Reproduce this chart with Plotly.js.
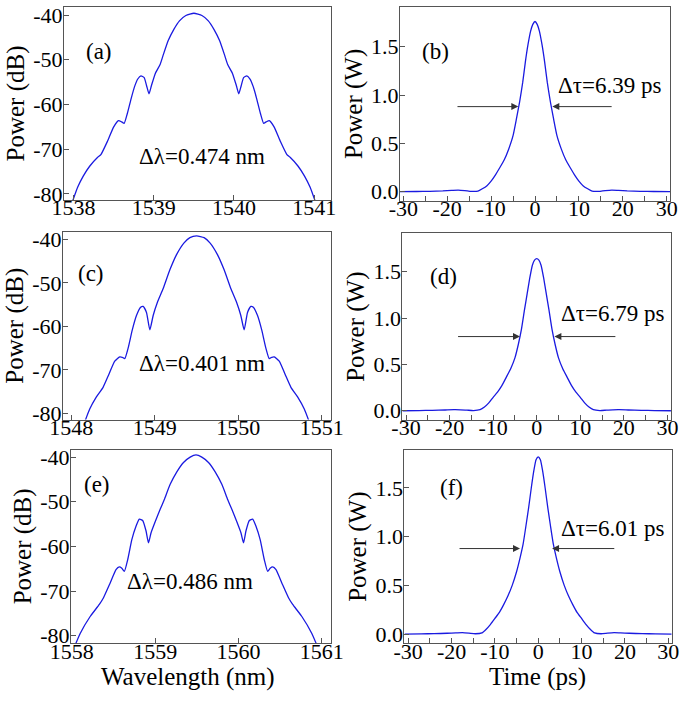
<!DOCTYPE html>
<html><head><meta charset="utf-8">
<script src="https://cdn.plot.ly/plotly-3.0.1.min.js"></script>
<style>html,body{margin:0;padding:0;background:#fff}</style>
</head><body><div id="chart" style="width:685px;height:701px"></div>
<script>
// ---- data ----
const wavelengthA = [1537.97,1538.05,1538.12,1538.20,1538.30,1538.34,1538.42,1538.50,1538.56,1538.60,1538.63,1538.67,1538.72,1538.76,1538.80,1538.84,1538.88,1538.91,1538.94,1538.97,1539.02,1539.08,1539.12,1539.18,1539.25,1539.32,1539.40,1539.50,1539.60,1539.68,1539.75,1539.82,1539.88,1539.92,1539.98,1540.03,1540.06,1540.09,1540.12,1540.16,1540.20,1540.24,1540.28,1540.33,1540.37,1540.40,1540.44,1540.50,1540.58,1540.66,1540.70,1540.80,1540.88,1540.95,1541.03];
const powerDbA = [-82.5,-78.5,-76.0,-73.8,-71.8,-71.2,-68.3,-65.0,-63.6,-63.9,-64.2,-62.0,-58.5,-56.0,-54.3,-53.6,-54.0,-55.8,-57.6,-55.8,-53.0,-51.0,-48.8,-45.7,-43.2,-41.3,-40.1,-39.6,-40.1,-41.3,-43.2,-45.7,-48.8,-51.0,-53.0,-55.8,-57.6,-55.8,-54.0,-53.6,-54.3,-56.0,-58.5,-62.0,-64.2,-63.9,-63.6,-65.0,-68.3,-71.2,-71.8,-73.8,-76.0,-78.5,-82.5];

const wavelengthC = [1548.15,1548.22,1548.30,1548.38,1548.45,1548.52,1548.58,1548.61,1548.64,1548.68,1548.73,1548.78,1548.83,1548.86,1548.90,1548.94,1548.98,1549.03,1549.10,1549.18,1549.26,1549.35,1549.42,1549.50,1549.59,1549.66,1549.75,1549.83,1549.91,1549.98,1550.03,1550.07,1550.11,1550.15,1550.18,1550.23,1550.28,1550.33,1550.37,1550.40,1550.43,1550.49,1550.56,1550.63,1550.71,1550.79,1550.86];
const powerDbC = [-82.5,-79.0,-76.2,-74.0,-71.0,-68.0,-67.0,-67.1,-67.4,-65.0,-60.8,-57.5,-55.6,-55.4,-56.8,-60.8,-57.5,-54.5,-51.3,-47.0,-43.5,-40.8,-39.6,-39.2,-39.6,-40.8,-43.5,-47.0,-51.3,-54.5,-57.5,-60.8,-56.8,-55.4,-55.6,-57.5,-60.8,-65.0,-67.4,-67.1,-67.0,-68.0,-71.0,-74.0,-76.2,-79.0,-82.5];

const wavelengthE = [1558.02,1558.10,1558.22,1558.33,1558.38,1558.46,1558.53,1558.57,1558.60,1558.63,1558.67,1558.72,1558.77,1558.81,1558.85,1558.89,1558.92,1558.95,1559.00,1559.06,1559.11,1559.18,1559.26,1559.34,1559.42,1559.49,1559.56,1559.64,1559.72,1559.80,1559.87,1559.92,1559.98,1560.03,1560.06,1560.09,1560.13,1560.17,1560.21,1560.26,1560.31,1560.35,1560.38,1560.41,1560.45,1560.52,1560.60,1560.65,1560.76,1560.88,1560.96];
const powerDbE = [-83.0,-79.5,-75.7,-73.0,-71.5,-68.2,-65.2,-64.6,-64.9,-65.6,-63.0,-58.5,-55.5,-53.9,-54.2,-56.5,-59.2,-57.0,-54.5,-51.7,-49.5,-46.1,-43.3,-41.2,-40.0,-39.5,-40.0,-41.2,-43.3,-46.1,-49.5,-51.7,-54.5,-57.0,-59.2,-56.5,-54.2,-53.9,-55.5,-58.5,-63.0,-65.6,-64.9,-64.6,-65.2,-68.2,-71.5,-73.0,-75.7,-79.5,-83.0];

const timePs = [-30.8,-27,-24,-21,-19,-17.5,-16,-14.5,-13,-12,-11,-10,-9,-8,-7,-6,-5,-4.2,-3.5,-2.8,-2.2,-1.6,-1.0,-0.5,0,0.5,1.0,1.6,2.2,2.8,3.5,4.2,5,6,7,8,9,10,11,12,13,14.5,16,17.5,19,21,24,27,30.8];
const powerWB = [0.0,0.002,0.004,0.008,0.013,0.017,0.012,0.003,0.006,0.03,0.06,0.11,0.175,0.25,0.33,0.44,0.58,0.76,0.93,1.13,1.34,1.52,1.66,1.73,1.76,1.73,1.66,1.52,1.34,1.13,0.93,0.76,0.58,0.44,0.33,0.25,0.175,0.11,0.06,0.03,0.006,0.003,0.012,0.017,0.013,0.008,0.004,0.002,0.0];
const powerWD = [0.0,0.002,0.004,0.008,0.011,0.010,0.006,0.002,0.012,0.04,0.085,0.145,0.2,0.27,0.36,0.45,0.57,0.72,0.88,1.09,1.26,1.43,1.57,1.625,1.64,1.625,1.57,1.43,1.26,1.09,0.88,0.72,0.57,0.45,0.36,0.27,0.2,0.145,0.085,0.04,0.012,0.002,0.006,0.010,0.011,0.008,0.004,0.002,0.0];
const powerWF = [0.0,0.002,0.004,0.008,0.012,0.015,0.010,0.003,0.012,0.05,0.1,0.16,0.22,0.3,0.39,0.5,0.64,0.78,0.92,1.12,1.3,1.5,1.68,1.79,1.82,1.79,1.68,1.5,1.3,1.12,0.92,0.78,0.64,0.5,0.39,0.3,0.22,0.16,0.1,0.05,0.012,0.003,0.010,0.015,0.012,0.008,0.004,0.002,0.0];

const panelLabels = ['(a)','(b)','(c)','(d)','(e)','(f)'];
const bandwidthLabels = ['Δλ=0.474 nm','Δλ=0.401 nm','Δλ=0.486 nm'];
const durationLabels = ['Δτ=6.39 ps','Δτ=6.79 ps','Δτ=6.01 ps'];
const axisTitles = ['Power (dB)','Power (W)','Wavelength (nm)','Time (ps)'];
const dbTicks = [-80,-70,-60,-50,-40];
const wTicks = [0,0.5,1.0,1.5];
const timeTicks = [-30,-20,-10,0,10,20,30];

// ---- styling ----
const serif = '"Liberation Serif", "Times New Roman", Times, serif';
const frame = '#555';
const blue = '#1a1ae0';
function axisBase(extra) {
  return Object.assign({
    showline:true, mirror:true, linecolor:frame, linewidth:1,
    ticks:'inside', ticklen:5, tickwidth:1, tickcolor:frame,
    showgrid:false, zeroline:false, fixedrange:true, automargin:false,
    tickfont:{family:serif, size:22, color:'#000'}
  }, extra);
}
function yTitle(t){ return {text:t, font:{family:serif,size:25,color:'#000'}, standoff:1}; }

const W = 685, H = 701;
const px = (a,b) => [a/W, b/W];
const py = (top,bottom) => [1-bottom/H, 1-top/H];

function line(x,y,xa,ya){ return {x:x,y:y,xaxis:xa,yaxis:ya,type:'scatter',mode:'lines',line:{color:blue,width:1.3,shape:'spline',smoothing:0.5},hoverinfo:'skip',showlegend:false}; }

const data = [
  line(wavelengthA,powerDbA,'x','y'),
  line(timePs,powerWB,'x2','y2'),
  line(wavelengthC,powerDbC,'x3','y3'),
  line(timePs,powerWD,'x4','y4'),
  line(wavelengthE,powerDbE,'x5','y5'),
  line(timePs,powerWF,'x6','y6')
];

const wlAxis = (d,r,a) => axisBase({domain:d, range:r, anchor:a, tickmode:'linear', dtick:1, ticklabelstandoff:-12});
const tAxis = (d,r,a) => axisBase({domain:d, range:r, anchor:a, tickmode:'array', tickvals:timeTicks, ticktext:timeTicks.map(String), ticklabelstandoff:-12,
  minor:{dtick:5, tick0:0, ticks:'inside', ticklen:5, tickcolor:frame, showgrid:false}});
const dbAxis = (d,r,a) => axisBase({domain:d, range:r, anchor:a, tickmode:'array', tickvals:dbTicks, ticktext:dbTicks.map(String), ticklabelstandoff:-4, title:yTitle(axisTitles[0])});
const wAxis = (d,r,a) => axisBase({domain:d, range:r, anchor:a, tickmode:'array', tickvals:wTicks, ticktext:wTicks.map(v=>v.toFixed(1)), ticklabelstandoff:-4, title:yTitle(axisTitles[1])});

const layout = {
  width:W, height:H, margin:{l:0,r:0,t:0,b:0}, paper_bgcolor:'#fff', plot_bgcolor:'#fff',
  font:{family:serif, color:'#000'},
  xaxis:  wlAxis(px(64,331),    [1537.88,1541.21], 'y'),
  yaxis:  dbAxis(py(7,200),     [-81.35,-38.2], 'x'),
  xaxis2: tAxis(px(400,670),    [-30.75,30.75], 'y2'),
  yaxis2: wAxis(py(7.3,200.5),  [-0.091,1.907], 'x2'),
  xaxis3: wlAxis(px(63,331),    [1547.90,1551.11], 'y3'),
  yaxis3: dbAxis(py(232,419.5), [-81.4,-38.3], 'x3'),
  xaxis4: tAxis(px(402.3,671),  [-30.85,30.82], 'y4'),
  yaxis4: wAxis(py(233.3,420),  [-0.1,1.914], 'x4'),
  xaxis5: wlAxis(px(71,331),    [1557.99,1561.11], 'y5'),
  yaxis5: dbAxis(py(449.5,643.3),[-81.7,-38.3], 'x5'),
  xaxis6: tAxis(px(404.3,671.7),[-30.9,30.8], 'y6'),
  yaxis6: wAxis(py(450,643.3),  [-0.095,1.89], 'x6'),
  annotations: []
};

const txt = (xr,yr,x,y,t) => ({xref:xr,yref:yr,x:x,y:y,text:t,showarrow:false,font:{family:serif,size:23,color:'#000'},xanchor:'center',yanchor:'middle'});
const arrow = (xr,yr,x,y,ax) => ({xref:xr,yref:yr,axref:xr,ayref:yr,x:x,y:y,ax:ax,ay:y,text:'',showarrow:true,arrowhead:2,arrowsize:1.4,arrowwidth:1,arrowcolor:'#333'});
const xTitleNote = (x,t) => ({xref:'paper',yref:'paper',x:x/W,y:1-677/H,text:t,showarrow:false,font:{family:serif,size:25,color:'#000'},xanchor:'center',yanchor:'middle'});

layout.annotations.push(
  txt('x','y',1538.32,-48.1,panelLabels[0]),
  txt('x2','y2',-22.6,1.45,panelLabels[1]),
  txt('x3','y3',1548.24,-47.8,panelLabels[2]),
  txt('x4','y4',-21.4,1.45,panelLabels[3]),
  txt('x5','y5',1558.30,-46.1,panelLabels[4]),
  txt('x6','y6',-20.0,1.51,panelLabels[5]),
  txt('x','y',1539.6,-71.7,bandwidthLabels[0]),
  txt('x3','y3',1549.56,-68.5,bandwidthLabels[1]),
  txt('x5','y5',1559.42,-67.9,bandwidthLabels[2]),
  txt('x2','y2',17.1,1.1,durationLabels[0]),
  txt('x4','y4',17.6,1.05,durationLabels[1]),
  txt('x6','y6',17.3,1.08,durationLabels[2]),
  arrow('x2','y2',-3.8,0.88,-18.0),
  arrow('x2','y2',3.95,0.88,17.8),
  arrow('x4','y4',-3.83,0.80,-18.4),
  arrow('x4','y4',4.05,0.80,18.4),
  arrow('x6','y6',-4.2,0.878,-18.5),
  arrow('x6','y6',3.2,0.878,17.9),
  xTitleNote(188,axisTitles[2]),
  xTitleNote(537,axisTitles[3])
);

Plotly.newPlot('chart', data, layout, {staticPlot:true, displayModeBar:false});
</script>
</body></html>
